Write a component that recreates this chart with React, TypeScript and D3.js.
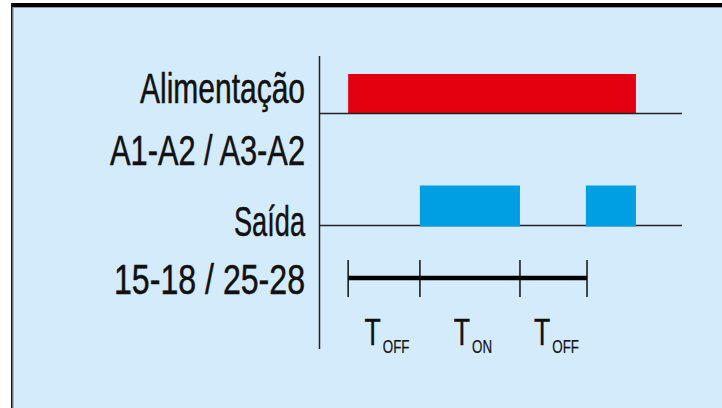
import React from "react";
import * as d3 from "d3";

// Signal labels (left column)
const rowLabels = ["Alimentação", "A1-A2 / A3-A2", "Saída", "15-18 / 25-28"];
// Time events (arbitrary time units on the horizontal axis)
const powerOn = [7.9, 87.3];               // Alimentação high interval
const outputPulses = [[27.7, 55.3], [73.5, 87.3]]; // Saída high intervals
const timingMarks = [7.9, 27.7, 55.3, 73.8];       // 15-18 / 25-28 markers
const timingLabels = [
  { main: "T", sub: "OFF" },
  { main: "T", sub: "ON" },
  { main: "T", sub: "OFF" },
];

const W = 722;
const H = 408;
const SX = 0.72; // condensed font factor
const FONT = "Liberation Sans, Arial, sans-serif";
const labelWidths = [165, 195, 71, 191];

export default function App() {
  const x = d3.scaleLinear().domain([0, 100]).range([319.5, 682]);
  // row layout: label baselines
  const labelY = d3.scaleOrdinal<string, number>().domain(rowLabels).range([103, 164.5, 236, 294]);
  const powBase = 113.5, powHigh = 74;
  const outBase = 225.5, outHigh = 185.5;
  const timeY = 278;

  const labelRight = 305;

  return (
    <svg width={W} height={H} style={{ position: "absolute", left: 0, top: 0, background: "#fff" }}>
      {/* frame */}
      <rect x={11} y={3} width={W - 11} height={H - 3} fill="#d4ebfb" />
      <rect x={11} y={3} width={W - 11} height={4} fill="#000" />
      <rect x={11} y={3} width={1.6} height={H - 3} fill="#111" />
      <line x1={13} y1={7.5} x2={W} y2={7.5} stroke="#8a9aa6" strokeWidth={1} />
      <line x1={13.2} y1={7} x2={13.2} y2={H} stroke="#8a9aa6" strokeWidth={1} />

      {/* row labels */}
      {rowLabels.map((t, i) => (
        <text
          key={t}
          x={labelRight}
          y={labelY(t)}
          textAnchor="end"
          textLength={labelWidths[i]}
          lengthAdjust="spacingAndGlyphs"
          fontFamily={FONT}
          fontSize={43}
          fill="#111"
          stroke="#111"
          strokeWidth={0.5}
        >
          {t}
        </text>
      ))}

      {/* vertical axis */}
      <line x1={x(0)} y1={56} x2={x(0)} y2={349} stroke="#222" strokeWidth={1.5} />

      {/* Alimentação */}
      <rect x={x(powerOn[0])} y={powHigh} width={x(powerOn[1]) - x(powerOn[0])} height={powBase - powHigh} fill="#e3000f" />
      <line x1={x(0)} y1={powBase} x2={x(100)} y2={powBase} stroke="#222" strokeWidth={1.6} />

      {/* Saída */}
      <line x1={x(0)} y1={outBase} x2={x(100)} y2={outBase} stroke="#222" strokeWidth={1.6} />
      {outputPulses.map((p, i) => (
        <rect key={i} x={x(p[0])} y={outHigh} width={x(p[1]) - x(p[0])} height={outBase - outHigh + 1} fill="#009fe3" />
      ))}

      {/* timing line */}
      <line
        x1={x(timingMarks[0])}
        y1={timeY}
        x2={x(timingMarks[timingMarks.length - 1])}
        y2={timeY}
        stroke="#000"
        strokeWidth={4.5}
      />
      {timingMarks.map((m, i) => (
        <line key={i} x1={x(m)} y1={260} x2={x(m)} y2={297} stroke="#111" strokeWidth={1.5} />
      ))}
      {timingLabels.map((l, i) => {
        const cx = (x(timingMarks[i]) + x(timingMarks[i + 1])) / 2 + 3;
        const mainW = 37 * 0.611 * SX;
        const subW = 18.6 * (l.sub === "OFF" ? 2.0 : 1.5) * SX;
        const total = mainW + 2 + subW;
        const left = cx - total / 2;
        return (
          <g key={i}>
            <text transform={`translate(${left},345) scale(${SX},1)`} fontFamily={FONT} fontSize={37} fill="#111" stroke="#111" strokeWidth={0.4}>
              {l.main}
            </text>
            <text transform={`translate(${left + mainW + 2},353) scale(${SX},1)`} fontFamily={FONT} fontSize={18.6} fill="#111" stroke="#111" strokeWidth={0.25}>
              {l.sub}
            </text>
          </g>
        );
      })}
    </svg>
  );
}
